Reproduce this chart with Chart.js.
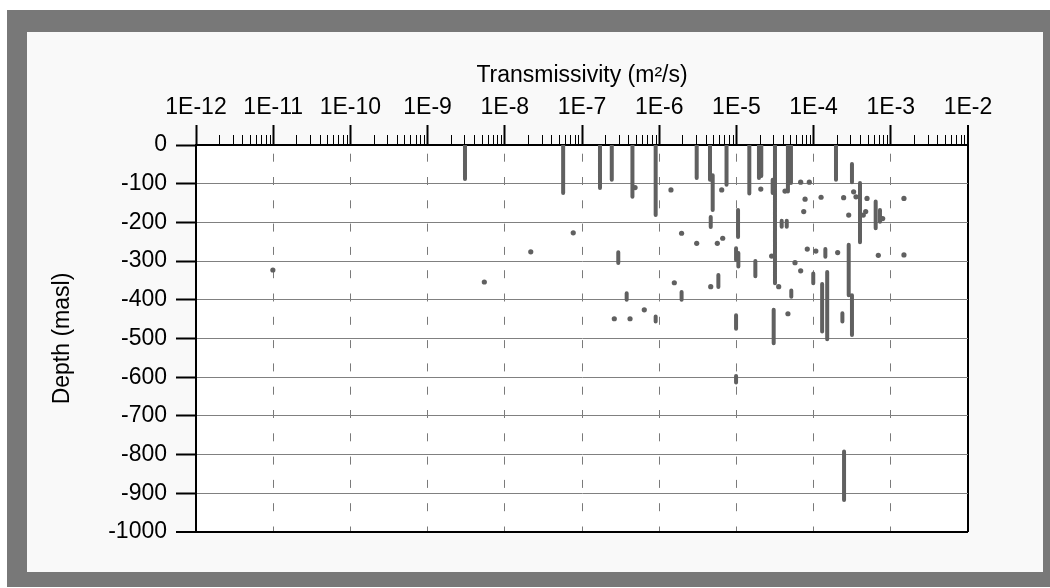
<!DOCTYPE html>
<html lang="en">
<head>
  <meta charset="UTF-8" />
  <title>Transmissivity vs depth</title>
  <script src="https://cdn.jsdelivr.net/npm/chart.js"></script>
  <style>
    html, body { margin: 0; padding: 0; background: #fff; }
    canvas { display: block; }
  </style>
</head>
<body>
  <canvas id="tChart" width="1050" height="588"></canvas>

  <script>
    // top axis decades
    const decades = [-12, -11, -10, -9, -8, -7, -6, -5, -4, -3, -2];
    const decadeLabels = ["1E-12", "1E-11", "1E-10", "1E-9", "1E-8", "1E-7", "1E-6", "1E-5", "1E-4", "1E-3", "1E-2"];

    // tested intervals: transmissivity, top and bottom of section (masl)
    const barT = [3.05e-9, 5.7e-8, 1.71e-7, 2.43e-7, 4.5e-7, 9.0e-7, 3.06e-6, 4.55e-6, 4.93e-6, 7.45e-6,
      1.47e-5, 1.96e-5, 2.1e-5, 3.16e-5, 2.95e-5, 4.65e-5, 5.09e-5, 1.95e-4, 3.14e-4, 4.65e-6,
      1.05e-5, 3.86e-5, 4.49e-5, 3.99e-4, 6.37e-4, 7.24e-4, 2.95e-7, 9.9e-6, 1.06e-5, 5.84e-6,
      3.79e-7, 1.95e-6, 9.0e-7, 9.9e-6, 1.42e-4, 2.85e-4, 1.76e-5, 9.9e-5, 1.50e-4, 1.29e-4,
      5.14e-5, 3.14e-4, 3.04e-5, 2.36e-4, 9.9e-6, 2.48e-4];
    const barTop = [0, 0, 0, 0, 0, 0, 0, 0, -78, 0,
      0, 0, 0, 0, -90, 0, 0, 0, -49, -186,
      -168, -196, -196, -98, -146, -168, -277, -267, -279, -336,
      -383, -380, -443, -440, -269, -258, -300, -332, -328, -359,
      -376, -388, -426, -435, -597, -792];
    const barBottom = [-88, -124, -111, -90, -134, -181, -85, -90, -168, -103,
      -125, -85, -80, -357, -124, -120, -98, -90, -96, -212,
      -238, -211, -211, -251, -215, -198, -305, -297, -314, -367,
      -400, -400, -456, -475, -289, -388, -339, -357, -502, -482,
      -392, -491, -512, -456, -614, -917];

    // single measurements
    const dotT = [9.9e-12, 5.43e-9, 2.17e-8, 7.7e-8, 4.87e-7, 1.42e-6, 6.45e-6, 1.95e-6, 3.06e-6, 5.66e-6,
      6.65e-6, 1.57e-6, 4.65e-6, 6.41e-7, 2.62e-7, 4.19e-7, 2.07e-5, 4.26e-5, 6.8e-5, 8.8e-5,
      7.75e-5, 1.25e-4, 2.45e-4, 3.30e-4, 3.54e-4, 4.92e-4, 1.48e-3, 7.45e-5, 2.85e-4, 4.4e-4,
      4.73e-4, 7.85e-4, 8.28e-5, 1.07e-4, 2.05e-4, 6.89e-4, 1.48e-3, 2.86e-5, 5.74e-5, 6.8e-5,
      3.53e-5, 4.65e-5];
    const dotDepth = [-323, -354, -276, -227, -110, -116, -116, -228, -254, -254,
      -241, -356, -366, -426, -449, -449, -114, -119, -96, -96,
      -140, -135, -136, -121, -134, -138, -138, -172, -181, -181,
      -172, -190, -269, -274, -278, -285, -284, -287, -304, -325,
      -366, -436];

    const markColor = "#606060";
    const font = { family: "'Liberation Sans', Arial, sans-serif", size: 23 };

    const barPoints = [];
    barT.forEach((t, i) => {
      barPoints.push({ x: t, y: barTop[i] }, { x: t, y: barBottom[i] }, { x: t, y: null });
    });
    const dotPoints = dotT.map((t, i) => ({ x: t, y: dotDepth[i] }));

    const frame = {
      id: "frame",
      beforeDraw(chart) {
        const c = chart.ctx;
        const a = chart.chartArea;
        c.save();
        c.fillStyle = "#ffffff";
        c.fillRect(0, 0, chart.width, chart.height);
        c.fillStyle = "#787878";
        c.fillRect(7, 10, chart.width - 7, 577);
        c.fillStyle = "#f9f9f9";
        c.fillRect(27, 32, 1016, 540);
        c.fillStyle = "#ffffff";
        c.fillRect(a.left, a.top, a.right - a.left, a.bottom - a.top);
        c.restore();
      },
      afterDraw(chart) {
        // minor ticks of the log axis
        const x = chart.scales.x;
        const top = chart.chartArea.top;
        const c = chart.ctx;
        c.save();
        c.strokeStyle = "#000";
        c.lineWidth = 1;
        decades.slice(0, -1).forEach(e => {
          for (let k = 2; k <= 9; k++) {
            const px = Math.round(x.getPixelForValue(k * Math.pow(10, e))) + 0.5;
            c.beginPath();
            c.moveTo(px, top);
            c.lineTo(px, top - 10);
            c.stroke();
          }
        });
        c.restore();
      }
    };

    const isEdge = v => v <= 1e-12 * 1.0001 || v >= 1e-2 * 0.9999;

    new Chart(document.getElementById("tChart"), {
      type: "line",
      data: {
        datasets: [
          {
            label: "Intervals",
            data: barPoints,
            borderColor: markColor,
            borderWidth: 4,
            borderCapStyle: "round",
            pointRadius: 0,
            spanGaps: false,
            tension: 0
          },
          {
            type: "scatter",
            label: "Points",
            data: dotPoints,
            backgroundColor: markColor,
            borderColor: markColor,
            borderWidth: 0,
            pointRadius: 2.6
          }
        ]
      },
      options: {
        responsive: false,
        animation: false,
        devicePixelRatio: 1,
        layout: { padding: { left: 0, top: 0, right: 82, bottom: 56 } },
        plugins: {
          legend: { display: false },
          tooltip: { enabled: false }
        },
        scales: {
          x: {
            type: "logarithmic",
            position: "top",
            min: 1e-12,
            max: 1e-2,
            afterBuildTicks(scale) {
              const t = [];
              decades.forEach((e, i) => {
                t.push({ value: Math.pow(10, e), major: true, label: decadeLabels[i] });
                if (i < decades.length - 1) {
                  for (let k = 2; k <= 9; k++) t.push({ value: k * Math.pow(10, e), major: false });
                }
              });
              scale.ticks = t;
            },
            afterFit(scale) { scale.height = 145; },
            ticks: {
              autoSkip: false,
              maxRotation: 0,
              padding: 4,
              color: "#000",
              font: font,
              callback(value, index, ticks) {
                const i = decades.findIndex(e => Math.abs(Math.log10(value) - e) < 1e-6);
                return i >= 0 ? decadeLabels[i] : "";
              }
            },
            grid: {
              drawOnChartArea: true,
              tickLength: 20,
              tickWidth: 2,
              color: ctx => {
                if (!ctx.tick) return "rgba(0,0,0,0)";
                if (ctx.tick.value >= 1e-2 * 0.9999) return "#000";
                return ctx.tick.major && !isEdge(ctx.tick.value) ? "#7a7a7a" : "rgba(0,0,0,0)";
              },
              lineWidth: ctx => (ctx.tick && ctx.tick.value >= 1e-2 * 0.9999 ? 2 : 1),
              tickColor: ctx => (ctx.tick && ctx.tick.major ? "#000" : "rgba(0,0,0,0)")
            },
            border: {
              display: true,
              color: "#000",
              width: 2,
              dash: ctx => (ctx.tick && ctx.tick.value >= 1e-2 * 0.9999 ? [] : [8, 15.3]),
              dashOffset: 15.6
            },
            title: {
              display: true,
              text: "Transmissivity (m\u00b2/s)",
              color: "#000",
              font: font,
              padding: { top: 62, bottom: 0 }
            }
          },
          y: {
            type: "linear",
            position: "left",
            min: -1000,
            max: 0,
            afterFit(scale) { scale.width = 196; },
            ticks: {
              stepSize: 100,
              padding: 9,
              color: "#000",
              font: font,
              callback: v => String(v)
            },
            grid: {
              tickLength: 20,
              tickWidth: 2,
              tickColor: "#000",
              color: ctx => (ctx.tick && (ctx.tick.value === -1000 || ctx.tick.value === 0) ? "#000" : "#808080"),
              lineWidth: ctx => (ctx.tick && ctx.tick.value === -1000 ? 2 : 1)
            },
            border: { display: true, color: "#000", width: 2 },
            title: {
              display: true,
              text: "Depth (masl)",
              color: "#000",
              font: font,
              padding: { top: 49, bottom: 0 }
            }
          }
        }
      },
      plugins: [frame]
    });
  </script>
</body>
</html>
